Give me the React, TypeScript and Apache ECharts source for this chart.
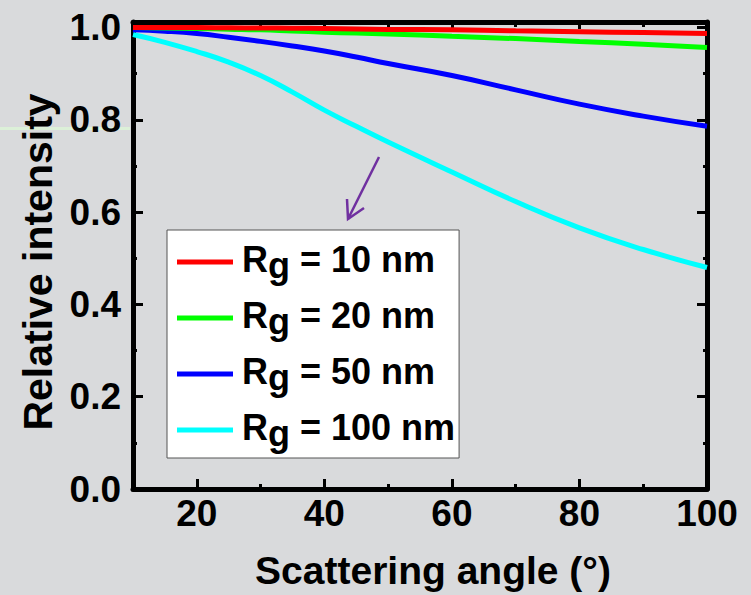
import React, { useEffect, useRef } from "react";
import * as echarts from "echarts";

const angles = [10, 15, 20, 25, 30, 35, 40, 45, 50, 60, 70, 80, 90, 100];
const rg10 = [1.0, 1.0, 1.0, 0.9995, 0.999, 0.9985, 0.998, 0.997, 0.996, 0.995, 0.993, 0.991, 0.989, 0.987];
const rg20 = [1.0, 0.999, 0.998, 0.9965, 0.995, 0.9925, 0.99, 0.988, 0.986, 0.981, 0.976, 0.97, 0.964, 0.957];
const rg50 = [0.995, 0.992, 0.987, 0.979, 0.97, 0.96, 0.949, 0.936, 0.922, 0.896, 0.865, 0.834, 0.808, 0.786];
const rg100 = [0.985, 0.968, 0.948, 0.925, 0.896, 0.86, 0.821, 0.786, 0.752, 0.687, 0.623, 0.566, 0.519, 0.48];

const seriesNames = ["Rg = 10 nm", "Rg = 20 nm", "Rg = 50 nm", "Rg = 100 nm"];
const seriesColors = ["#ff0000", "#00ff00", "#0000ff", "#00ffff"];
const seriesValues = [rg10, rg20, rg50, rg100];

const xTitle = "Scattering angle (°)";
const yTitle = "Relative intensity";

const FONT = "'Liberation Sans', Arial, sans-serif";

export default function App() {
  const ref = useRef<HTMLDivElement>(null);
  useEffect(() => {
    if (!ref.current) return;
    const chart = echarts.init(ref.current, null, { renderer: "svg" });
    const axisLine = { show: true, lineStyle: { color: "#000", width: 5 } };
    const legendTok = { fontSize: 36, fontWeight: "bold", fontFamily: FONT, color: "#000", lineHeight: 38 };
    const option: any = {
      animation: false,
      backgroundColor: "#d9dadc",
      textStyle: { fontFamily: FONT },
      grid: { left: 133, right: 44, top: 22, bottom: 105 },
      legend: {
        orient: "vertical",
        left: 167,
        top: 230,
        padding: [11, 4, 7, 10],
        itemGap: 14,
        itemWidth: 56,
        itemHeight: 5,
        icon: "rect",
        backgroundColor: "#ffffff",
        borderColor: "#555555",
        borderWidth: 1,
        borderRadius: 0,
        data: seriesNames,
        formatter: (n: string) => "{r|R}{s|g}{t|" + n.slice(2) + "}",
        textStyle: {
          fontFamily: FONT,
          fontWeight: "bold",
          fontSize: 36,
          color: "#000",
          rich: {
            r: { ...legendTok, padding: [0, 0, 6, 4] },
            s: { ...legendTok, padding: [6, 0, 0, 0] },
            t: { ...legendTok, padding: [0, 0, 6, 0] },
          },
        },
      },
      xAxis: [
        {
          type: "value",
          position: "bottom",
          min: 10,
          max: 100,
          splitNumber: 5,
          axisLine,
          axisTick: { show: true, inside: true, length: 10, lineStyle: { color: "#000", width: 3 } },
          axisLabel: {
            show: true,
            margin: 6,
            fontSize: 37,
            fontWeight: "bold",
            fontFamily: FONT,
            color: "#000",
            formatter: (v: number) => (v % 20 === 0 ? String(v) : ""),
          },
          splitLine: { show: false },
          name: xTitle,
          nameLocation: "middle",
          nameGap: 62,
          nameTextStyle: { fontSize: 39, fontWeight: "bold", fontFamily: FONT, color: "#000", padding: [0, 0, 0, 26] },
        },
        {
          type: "value",
          position: "bottom",
          min: 10,
          max: 100,
          interval: 10,
          axisLine: { show: false },
          axisTick: { show: true, inside: true, length: 5, lineStyle: { color: "#000", width: 3 } },
          axisLabel: { show: false },
          splitLine: { show: false },
        },
        {
          type: "value",
          position: "top",
          min: 10,
          max: 100,
          splitNumber: 5,
          axisLine,
          axisTick: { show: true, inside: true, length: 7, lineStyle: { color: "#000", width: 3 } },
          axisLabel: { show: false },
          splitLine: { show: false },
        },
        {
          type: "value",
          position: "top",
          min: 10,
          max: 100,
          interval: 10,
          axisLine: { show: false },
          axisTick: { show: true, inside: true, length: 5, lineStyle: { color: "#000", width: 3 } },
          axisLabel: { show: false },
          splitLine: { show: false },
        },
      ],
      yAxis: [
        {
          type: "value",
          position: "left",
          min: 0,
          max: 1.012,
          interval: 0.2,
          axisLine,
          axisTick: { show: true, inside: true, length: 10, lineStyle: { color: "#000", width: 3 } },
          minorTick: { show: true, splitNumber: 2, length: 4, lineStyle: { color: "#000", width: 3 } },
          axisLabel: {
            show: true,
            margin: 12,
            fontSize: 37,
            fontWeight: "bold",
            fontFamily: FONT,
            color: "#000",
            formatter: (v: number) => (Math.abs(v * 5 - Math.round(v * 5)) < 1e-6 ? v.toFixed(1) : ""),
          },
          splitLine: { show: false },
          name: yTitle,
          nameLocation: "middle",
          nameGap: 72,
          nameRotate: 90,
          nameTextStyle: { fontSize: 41, fontWeight: "bold", fontFamily: FONT, color: "#000", padding: [0, 13, 0, 0] },
        },
        {
          type: "value",
          position: "right",
          min: 0,
          max: 1.012,
          interval: 0.2,
          axisLine,
          axisTick: { show: true, inside: true, length: 10, lineStyle: { color: "#000", width: 3 } },
          minorTick: { show: true, splitNumber: 2, length: 4, lineStyle: { color: "#000", width: 3 } },
          axisLabel: { show: false },
          splitLine: { show: false },
        },
      ],
      series: seriesNames.map((name, i) => ({
        name,
        type: "line",
        xAxisIndex: 0,
        yAxisIndex: 0,
        data: angles.map((a, j) => [a, seriesValues[i][j]]),
        smooth: 0.5,
        showSymbol: false,
        symbol: "none",
        lineStyle: { color: seriesColors[i], width: 5 },
        itemStyle: { color: seriesColors[i] },
        z: 3 + (3 - i),
      })),
      graphic: [
        {
          type: "rect",
          silent: true,
          z: -1,
          shape: { x: 0, y: 127, width: 130, height: 3 },
          style: { fill: "rgba(220,245,215,0.8)" },
        },
        {
          type: "line",
          silent: true,
          z: 100,
          shape: { x1: 379, y1: 157, x2: 348, y2: 219 },
          style: { stroke: "#7030a0", lineWidth: 2.5 },
        },
        {
          type: "polyline",
          silent: true,
          z: 100,
          shape: { points: [[347, 199], [348, 219], [364, 208]] },
          style: { stroke: "#7030a0", lineWidth: 2.5, fill: "none" },
        },
      ],
    };
    chart.setOption(option);
    return () => chart.dispose();
  }, []);
  return (
    <div
      ref={ref}
      style={{ position: "fixed", left: 0, top: 0, width: 751, height: 595 }}
    />
  );
}
